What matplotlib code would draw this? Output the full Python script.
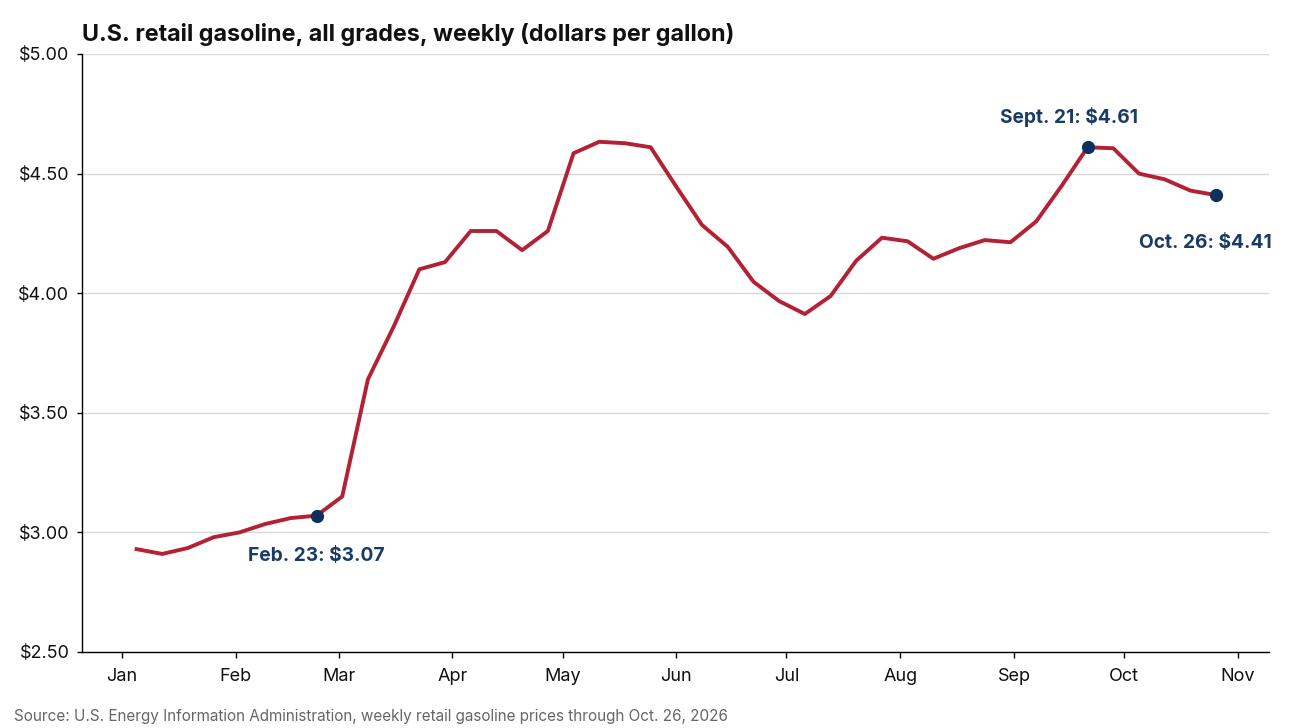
import matplotlib
matplotlib.use("Agg")
import matplotlib.pyplot as plt
import numpy as np
import datetime as dt

plt.rcParams['font.family'] = ['Inter', 'DejaVu Sans']

start_date = "2026-01-05"
n_weeks = 43
prices = [2.93, 2.91, 2.935, 2.98, 3.00, 3.035, 3.06, 3.07, 3.15, 3.64,
          3.86, 4.10, 4.13, 4.26, 4.26, 4.18, 4.26, 4.585, 4.633, 4.627,
          4.61, 4.445, 4.285, 4.194, 4.048, 3.967, 3.913, 3.988, 4.136, 4.232,
          4.217, 4.144, 4.188, 4.222, 4.213, 4.30, 4.45, 4.61, 4.606, 4.50,
          4.476, 4.429, 4.41]
highlight_idx = [7, 37, 42]
highlight_labels = ["Feb. 23: $3.07", "Sept. 21: $4.61", "Oct. 26: $4.41"]
month_labels = ["Jan", "Feb", "Mar", "Apr", "May", "Jun", "Jul", "Aug", "Sep", "Oct", "Nov"]
y_ticks = [2.5, 3.0, 3.5, 4.0, 4.5, 5.0]

dates = np.array(start_date, dtype='datetime64[D]') + np.arange(n_weeks) * 7
dates = dates.astype('datetime64[ms]').astype(dt.datetime)

line_color = "#b22234"
dot_color = "#0f2f5e"
label_color = "#1b3a66"

fig = plt.figure(figsize=(13, 7.28), dpi=100)
ax = fig.add_axes([82/1300, 1-652/728, (1269-82)/1300, (652-54)/728])

ax.plot(dates, prices, color=line_color, lw=2.8, solid_joinstyle='round', zorder=3)
for i in highlight_idx:
    ax.plot(dates[i], prices[i], 'o', color=dot_color, ms=8.5, zorder=4)

# label offsets in points (dx, dy)
offsets = [(-0.4, -29.2), (-13.7, 21.5), (-7.6, -34.8)]
for i, lab, (dx, dy) in zip(highlight_idx, highlight_labels, offsets):
    ax.annotate(lab, (dates[i], prices[i]), xytext=(dx, dy), textcoords='offset points',
                ha='center', va='center', fontsize=13.8, fontweight='bold',
                color=label_color, zorder=5, annotation_clip=False)

ax.set_ylim(2.5, 5.0)
ax.set_yticks(y_ticks)
ax.set_yticklabels([f"${v:.2f}" for v in y_ticks])
ax.set_xlim(dt.datetime(2025, 12, 21, 3), dt.datetime(2026, 11, 9, 10))
month_ticks = [dt.datetime(2026, m, 1) for m in range(1, 12)]
ax.set_xticks(month_ticks)
ax.set_xticklabels(month_labels)

ax.grid(axis='y', color='#d9d9d9', lw=1.0, zorder=0)
ax.set_axisbelow(True)
for s in ['top', 'right']:
    ax.spines[s].set_visible(False)
for s in ['left', 'bottom']:
    ax.spines[s].set_color('black')
    ax.spines[s].set_linewidth(1.0)
ax.tick_params(axis='x', length=4.3, width=1, color='black', labelsize=13, pad=7.5, labelcolor='#111111')
ax.tick_params(axis='y', length=3.6, width=1, color='black', labelsize=13, pad=5.5, labelcolor='#111111')

fig.text(82/1300, 1-35/728, "U.S. retail gasoline, all grades, weekly (dollars per gallon)",
         fontsize=16.8, fontweight='bold', ha='left', va='center', color='#111111')
fig.text(14/1300, 1-716/728, "Source: U.S. Energy Information Administration, weekly retail gasoline prices through Oct. 26, 2026",
         fontsize=11, ha='left', va='center', color='#666666')

fig.savefig("out.png", dpi=100)
